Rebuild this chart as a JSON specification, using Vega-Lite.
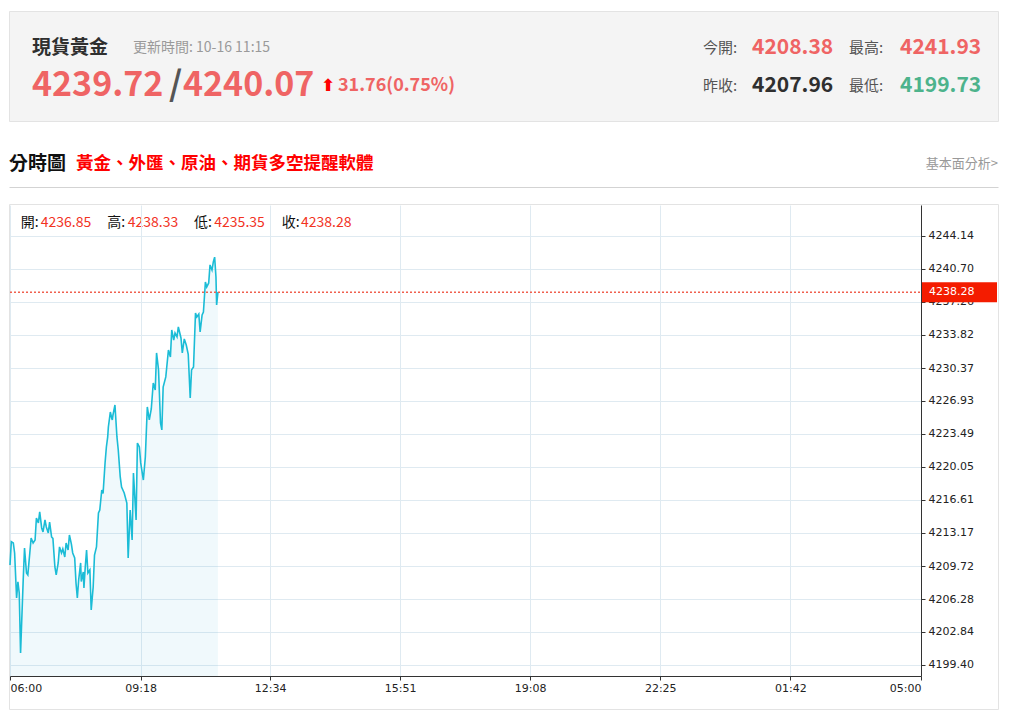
{
  "$schema": "https://vega.github.io/schema/vega-lite/v6.json",
  "background": "white",
  "padding": {"left": 6, "top": 10, "right": 0, "bottom": 0},
  "bounds": "flush",
  "spacing": 17,
  "resolve": {"scale": {"color": "independent", "x": "independent", "y": "independent"}},
  "datasets": {
    "header": [
      {"col": 1, "line": 1, "kind": "name", "text": "現貨黃金", "tone": "ink"},
      {"col": 2, "line": 1, "kind": "meta", "text": "更新時間: 10-16 11:15", "tone": "muted"},
      {"col": 1, "line": 2, "kind": "big", "text": "4239.72", "tone": "up"},
      {"col": 3, "line": 2, "kind": "big", "text": "/", "tone": "slash"},
      {"col": 4, "line": 2, "kind": "big", "text": "4240.07", "tone": "up"},
      {"col": 5, "line": 2, "kind": "arrow", "text": "⬆", "tone": "arrow"},
      {"col": 6, "line": 2, "kind": "change", "text": "31.76(0.75%)", "tone": "up"},
      {"col": 7, "line": 1, "kind": "label", "text": "今開:", "tone": "label"},
      {"col": 8, "line": 1, "kind": "value", "text": "4208.38", "tone": "up"},
      {"col": 9, "line": 1, "kind": "label", "text": "最高:", "tone": "label"},
      {"col": 10, "line": 1, "kind": "value", "text": "4241.93", "tone": "up"},
      {"col": 7, "line": 2, "kind": "label", "text": "昨收:", "tone": "label"},
      {"col": 8, "line": 2, "kind": "value", "text": "4207.96", "tone": "ink"},
      {"col": 9, "line": 2, "kind": "label", "text": "最低:", "tone": "label"},
      {"col": 10, "line": 2, "kind": "value", "text": "4199.73", "tone": "down"}
    ],
    "bar": [
      {"col": 1, "line": 1, "kind": "head", "text": "分時圖", "tone": "ink"},
      {"col": 4, "line": 1, "kind": "promo", "text": "黃金、外匯、原油、期貨多空提醒軟體", "tone": "alert"},
      {"col": 11, "line": 1, "kind": "link", "text": "基本面分析>", "tone": "muted"},
      {"col": 2, "line": 2, "kind": "info", "text": "開:", "tone": "ink"},
      {"col": 3, "line": 2, "kind": "info", "text": "4236.85", "tone": "quote"},
      {"col": 5, "line": 2, "kind": "info", "text": "高:", "tone": "ink"},
      {"col": 6, "line": 2, "kind": "info", "text": "4238.33", "tone": "quote"},
      {"col": 7, "line": 2, "kind": "info", "text": "低:", "tone": "ink"},
      {"col": 8, "line": 2, "kind": "info", "text": "4235.35", "tone": "quote"},
      {"col": 9, "line": 2, "kind": "info", "text": "收:", "tone": "ink"},
      {"col": 10, "line": 2, "kind": "info", "text": "4238.28", "tone": "quote"}
    ],
    "quote": [{"t": "2025-10-16T11:15", "p": 4238.28}],
    "price": [
      {"t": "2025-10-16T06:00", "p": 4209.83}, {"t": "2025-10-16T06:02", "p": 4212.26}, {"t": "2025-10-16T06:05", "p": 4212.12},
      {"t": "2025-10-16T06:07", "p": 4211.08}, {"t": "2025-10-16T06:10", "p": 4206.39}, {"t": "2025-10-16T06:12", "p": 4208.06},
      {"t": "2025-10-16T06:14", "p": 4206.91}, {"t": "2025-10-16T06:16", "p": 4200.65}, {"t": "2025-10-16T06:20", "p": 4208.26},
      {"t": "2025-10-16T06:22", "p": 4211.60}, {"t": "2025-10-16T06:25", "p": 4208.99}, {"t": "2025-10-16T06:27", "p": 4208.79},
      {"t": "2025-10-16T06:30", "p": 4211.08}, {"t": "2025-10-16T06:32", "p": 4212.64}, {"t": "2025-10-16T06:35", "p": 4212.12},
      {"t": "2025-10-16T06:38", "p": 4212.44}, {"t": "2025-10-16T06:40", "p": 4214.73}, {"t": "2025-10-16T06:43", "p": 4214.21},
      {"t": "2025-10-16T06:45", "p": 4215.36}, {"t": "2025-10-16T06:48", "p": 4213.69}, {"t": "2025-10-16T06:50", "p": 4213.27},
      {"t": "2025-10-16T06:53", "p": 4214.52}, {"t": "2025-10-16T06:55", "p": 4213.79}, {"t": "2025-10-16T06:58", "p": 4213.17},
      {"t": "2025-10-16T07:00", "p": 4214.31}, {"t": "2025-10-16T07:03", "p": 4212.75}, {"t": "2025-10-16T07:05", "p": 4212.60},
      {"t": "2025-10-16T07:08", "p": 4209.62}, {"t": "2025-10-16T07:10", "p": 4208.79}, {"t": "2025-10-16T07:13", "p": 4210.04},
      {"t": "2025-10-16T07:15", "p": 4211.71}, {"t": "2025-10-16T07:18", "p": 4211.08}, {"t": "2025-10-16T07:20", "p": 4211.50},
      {"t": "2025-10-16T07:23", "p": 4210.66}, {"t": "2025-10-16T07:25", "p": 4212.12}, {"t": "2025-10-16T07:28", "p": 4211.39},
      {"t": "2025-10-16T07:30", "p": 4212.96}, {"t": "2025-10-16T07:33", "p": 4212.00}, {"t": "2025-10-16T07:35", "p": 4211.08},
      {"t": "2025-10-16T07:38", "p": 4210.56}, {"t": "2025-10-16T07:40", "p": 4207.95}, {"t": "2025-10-16T07:42", "p": 4206.39},
      {"t": "2025-10-16T07:44", "p": 4208.26}, {"t": "2025-10-16T07:47", "p": 4210.04}, {"t": "2025-10-16T07:48", "p": 4208.10},
      {"t": "2025-10-16T07:51", "p": 4209.10}, {"t": "2025-10-16T07:52", "p": 4207.43}, {"t": "2025-10-16T07:54", "p": 4209.62},
      {"t": "2025-10-16T07:56", "p": 4211.39}, {"t": "2025-10-16T07:58", "p": 4208.99}, {"t": "2025-10-16T08:01", "p": 4209.31},
      {"t": "2025-10-16T08:03", "p": 4205.14}, {"t": "2025-10-16T08:06", "p": 4207.53}, {"t": "2025-10-16T08:08", "p": 4210.87},
      {"t": "2025-10-16T08:11", "p": 4211.71}, {"t": "2025-10-16T08:14", "p": 4215.25}, {"t": "2025-10-16T08:16", "p": 4215.56},
      {"t": "2025-10-16T08:19", "p": 4217.65}, {"t": "2025-10-16T08:21", "p": 4217.30}, {"t": "2025-10-16T08:24", "p": 4220.47},
      {"t": "2025-10-16T08:26", "p": 4222.13}, {"t": "2025-10-16T08:28", "p": 4223.18}, {"t": "2025-10-16T08:29", "p": 4224.22},
      {"t": "2025-10-16T08:32", "p": 4225.78}, {"t": "2025-10-16T08:34", "p": 4225.16}, {"t": "2025-10-16T08:35", "p": 4224.95},
      {"t": "2025-10-16T08:36", "p": 4225.47}, {"t": "2025-10-16T08:39", "p": 4226.51}, {"t": "2025-10-16T08:42", "p": 4223.18},
      {"t": "2025-10-16T08:44", "p": 4221.82}, {"t": "2025-10-16T08:47", "p": 4219.01}, {"t": "2025-10-16T08:49", "p": 4217.96},
      {"t": "2025-10-16T08:53", "p": 4217.34}, {"t": "2025-10-16T08:57", "p": 4216.29}, {"t": "2025-10-16T08:59", "p": 4210.56},
      {"t": "2025-10-16T09:02", "p": 4215.56}, {"t": "2025-10-16T09:05", "p": 4212.44}, {"t": "2025-10-16T09:07", "p": 4219.42},
      {"t": "2025-10-16T09:11", "p": 4214.52}, {"t": "2025-10-16T09:13", "p": 4222.55}, {"t": "2025-10-16T09:16", "p": 4222.13},
      {"t": "2025-10-16T09:18", "p": 4220.47}, {"t": "2025-10-16T09:22", "p": 4218.69}, {"t": "2025-10-16T09:25", "p": 4221.09},
      {"t": "2025-10-16T09:28", "p": 4226.31}, {"t": "2025-10-16T09:31", "p": 4224.95}, {"t": "2025-10-16T09:34", "p": 4226.10},
      {"t": "2025-10-16T09:37", "p": 4228.81}, {"t": "2025-10-16T09:40", "p": 4228.08}, {"t": "2025-10-16T09:42", "p": 4231.94},
      {"t": "2025-10-16T09:45", "p": 4230.17}, {"t": "2025-10-16T09:48", "p": 4224.64}, {"t": "2025-10-16T09:50", "p": 4223.91},
      {"t": "2025-10-16T09:52", "p": 4228.39}, {"t": "2025-10-16T09:56", "p": 4229.44}, {"t": "2025-10-16T10:00", "p": 4232.25},
      {"t": "2025-10-16T10:03", "p": 4231.52}, {"t": "2025-10-16T10:05", "p": 4234.34}, {"t": "2025-10-16T10:08", "p": 4233.29},
      {"t": "2025-10-16T10:10", "p": 4234.02}, {"t": "2025-10-16T10:13", "p": 4233.61}, {"t": "2025-10-16T10:15", "p": 4234.65},
      {"t": "2025-10-16T10:19", "p": 4233.50}, {"t": "2025-10-16T10:21", "p": 4231.94}, {"t": "2025-10-16T10:24", "p": 4233.40},
      {"t": "2025-10-16T10:27", "p": 4232.77}, {"t": "2025-10-16T10:30", "p": 4231.80}, {"t": "2025-10-16T10:33", "p": 4227.25},
      {"t": "2025-10-16T10:35", "p": 4230.17}, {"t": "2025-10-16T10:38", "p": 4230.48}, {"t": "2025-10-16T10:41", "p": 4236.11},
      {"t": "2025-10-16T10:43", "p": 4235.69}, {"t": "2025-10-16T10:46", "p": 4236.00}, {"t": "2025-10-16T10:48", "p": 4234.13},
      {"t": "2025-10-16T10:51", "p": 4235.90}, {"t": "2025-10-16T10:53", "p": 4236.21}, {"t": "2025-10-16T10:56", "p": 4239.34},
      {"t": "2025-10-16T10:58", "p": 4238.82}, {"t": "2025-10-16T11:01", "p": 4239.24}, {"t": "2025-10-16T11:03", "p": 4241.12},
      {"t": "2025-10-16T11:06", "p": 4240.59}, {"t": "2025-10-16T11:08", "p": 4241.43}, {"t": "2025-10-16T11:10", "p": 4241.93},
      {"t": "2025-10-16T11:12", "p": 4239.86}, {"t": "2025-10-16T11:13", "p": 4236.94}, {"t": "2025-10-16T11:15", "p": 4238.28}
    ]
  },
  "vconcat": [
    {
      "width": 989,
      "height": 110,
      "view": {"fill": "#f4f4f4", "stroke": "#e3e3e3"},
      "data": {"name": "header"},
      "encoding": {
        "x": {"field": "col", "type": "quantitative", "scale": {"domain": [1, 2, 3, 4, 5, 6, 7, 8, 9, 10], "range": [23, 124, 160, 174, 312, 329, 694, 743, 840, 891], "nice": false, "zero": false}, "axis": null},
        "y": {"field": "line", "type": "quantitative", "scale": {"domain": [1, 2], "range": [36.5, 75], "nice": false, "zero": false}, "axis": null},
        "text": {"field": "text"},
        "color": {"field": "tone", "type": "nominal", "scale": {"domain": ["ink", "muted", "up", "slash", "arrow", "label", "down"], "range": ["#2f2f2f", "#9a9a9a", "#ef6464", "#555555", "#ff0000", "#555555", "#4db38c"]}, "legend": null}
      },
      "layer": [
        {"transform": [{"filter": "datum.kind == 'name'"}], "mark": {"type": "text", "font": "Noto Sans CJK TC", "fontSize": 19, "fontWeight": "bold", "align": "left", "baseline": "middle"}},
        {"transform": [{"filter": "datum.kind == 'meta'"}], "mark": {"type": "text", "font": "Noto Sans CJK TC", "fontSize": 14, "align": "left", "baseline": "middle"}},
        {"transform": [{"filter": "datum.kind == 'big'"}], "mark": {"type": "text", "font": "Noto Sans CJK TC", "fontSize": 34, "fontWeight": "bold", "align": "left", "baseline": "middle"}},
        {"transform": [{"filter": "datum.kind == 'arrow'"}], "mark": {"type": "text", "font": "DejaVu Sans", "fontSize": 17, "fontWeight": "bold", "align": "left", "baseline": "middle"}},
        {"transform": [{"filter": "datum.kind == 'change'"}], "mark": {"type": "text", "font": "Noto Sans CJK TC", "fontSize": 18, "fontWeight": "bold", "align": "left", "baseline": "middle"}},
        {"transform": [{"filter": "datum.kind == 'label'"}], "mark": {"type": "text", "font": "Noto Sans CJK TC", "fontSize": 15, "align": "left", "baseline": "middle"}},
        {"transform": [{"filter": "datum.kind == 'value'"}], "mark": {"type": "text", "font": "Noto Sans CJK TC", "fontSize": 21, "fontWeight": "bold", "align": "left", "baseline": "middle"}}
      ]
    },
    {
      "width": 989,
      "height": 49,
      "view": {"stroke": null},
      "data": {"name": "bar"},
      "encoding": {
        "x": {"field": "col", "type": "quantitative", "scale": {"domain": [1, 2, 3, 4, 5, 6, 7, 8, 9, 10, 11], "range": [0, 11.7, 31.7, 67, 98.3, 118.7, 185, 205.3, 272.7, 292, 989], "nice": false, "zero": false}, "axis": {"orient": "bottom", "title": null, "labels": false, "ticks": false, "grid": false, "domainColor": "#d3d3d3", "domainWidth": 1}},
        "y": {"field": "line", "type": "quantitative", "scale": {"domain": [1, 2], "range": [25.5, 84.5], "nice": false, "zero": false}, "axis": null},
        "text": {"field": "text"},
        "color": {"field": "tone", "type": "nominal", "scale": {"domain": ["ink", "alert", "muted", "quote"], "range": ["#111111", "#ff0000", "#999999", "#f2331f"]}, "legend": null}
      },
      "layer": [
        {"transform": [{"filter": "datum.kind == 'head'"}], "mark": {"type": "text", "font": "Noto Sans CJK TC", "fontSize": 19, "fontWeight": "bold", "align": "left", "baseline": "middle"}},
        {"transform": [{"filter": "datum.kind == 'promo'"}], "mark": {"type": "text", "font": "Noto Sans CJK TC", "fontSize": 17.5, "fontWeight": "bold", "align": "left", "baseline": "middle"}},
        {"transform": [{"filter": "datum.kind == 'link'"}], "mark": {"type": "text", "font": "Noto Sans CJK TC", "fontSize": 13, "align": "right", "baseline": "middle"}},
        {"transform": [{"filter": "datum.kind == 'info'"}], "mark": {"type": "text", "font": "Noto Sans CJK TC", "fontSize": 14, "align": "left", "baseline": "middle"}}
      ]
    },
    {
      "width": 989,
      "height": 505,
      "view": {"stroke": "#e3e3e3"},
      "resolve": {"axis": {"x": "independent", "y": "independent"}},
      "layer": [
        {
          "data": {"name": "quote"},
          "mark": {"type": "point", "opacity": 0},
          "encoding": {
            "x": {
              "field": "t", "type": "temporal",
              "scale": {"domain": [{"year": 2025, "month": 10, "date": 16, "hours": 6}, {"year": 2025, "month": 10, "date": 17, "hours": 5}], "range": [1, 912], "nice": false},
              "axis": {
                "orient": "top", "title": null, "labels": false, "ticks": false, "domain": false, "grid": true, "gridColor": "#dfeaf1",
                "values": [
                  {"year": 2025, "month": 10, "date": 16, "hours": 6},
                  {"year": 2025, "month": 10, "date": 16, "hours": 9, "minutes": 18},
                  {"year": 2025, "month": 10, "date": 16, "hours": 12, "minutes": 34},
                  {"year": 2025, "month": 10, "date": 16, "hours": 15, "minutes": 51},
                  {"year": 2025, "month": 10, "date": 16, "hours": 19, "minutes": 8},
                  {"year": 2025, "month": 10, "date": 16, "hours": 22, "minutes": 25},
                  {"year": 2025, "month": 10, "date": 17, "hours": 1, "minutes": 42},
                  {"year": 2025, "month": 10, "date": 17, "hours": 5}
                ]
              }
            },
            "y": {
              "field": "p", "type": "quantitative",
              "scale": {"domain": [4198.25, 4247.37], "range": [472, 1], "nice": false, "zero": false},
              "axis": {
                "orient": "left", "title": null, "labels": false, "ticks": false, "domain": false, "grid": true, "gridColor": "#dfeaf1",
                "values": [4199.40, 4202.84, 4206.28, 4209.72, 4213.17, 4216.61, 4220.05, 4223.49, 4226.93, 4230.37, 4233.82, 4237.26, 4240.70, 4244.14]
              }
            }
          }
        },
        {
          "encoding": {
            "x": {
              "field": "t", "type": "temporal",
              "scale": {"domain": [{"year": 2025, "month": 10, "date": 16, "hours": 6}, {"year": 2025, "month": 10, "date": 17, "hours": 5}], "range": [1, 912], "nice": false},
              "axis": {
                "orient": "bottom", "offset": -33, "title": null, "format": "%H:%M",
                "values": [
                  {"year": 2025, "month": 10, "date": 16, "hours": 6},
                  {"year": 2025, "month": 10, "date": 16, "hours": 9, "minutes": 18},
                  {"year": 2025, "month": 10, "date": 16, "hours": 12, "minutes": 34},
                  {"year": 2025, "month": 10, "date": 16, "hours": 15, "minutes": 51},
                  {"year": 2025, "month": 10, "date": 16, "hours": 19, "minutes": 8},
                  {"year": 2025, "month": 10, "date": 16, "hours": 22, "minutes": 25},
                  {"year": 2025, "month": 10, "date": 17, "hours": 1, "minutes": 42},
                  {"year": 2025, "month": 10, "date": 17, "hours": 5}
                ],
                "grid": false, "domainColor": "#333333", "tickColor": "#333333", "tickSize": 4,
                "labelFont": "DejaVu Sans", "labelFontSize": 11, "labelColor": "#222222", "labelPadding": 2, "labelFlush": true, "labelOverlap": false
              }
            },
            "y": {
              "field": "p", "type": "quantitative",
              "scale": {"domain": [4198.25, 4247.37], "range": [472, 1], "nice": false, "zero": false},
              "axis": {
                "orient": "right", "offset": -77, "title": null, "format": ".2f",
                "values": [4199.40, 4202.84, 4206.28, 4209.72, 4213.17, 4216.61, 4220.05, 4223.49, 4226.93, 4230.37, 4233.82, 4237.26, 4240.70, 4244.14],
                "grid": false, "domainColor": "#333333", "tickColor": "#333333", "tickSize": 4,
                "labelFont": "DejaVu Sans", "labelFontSize": 11, "labelColor": "#222222", "labelPadding": 3, "labelOverlap": false
              }
            }
          },
          "layer": [
            {"data": {"name": "price"}, "mark": {"type": "area", "orient": "vertical", "interpolate": "linear", "fill": "#5bc0de", "fillOpacity": 0.09}, "encoding": {"y2": {"datum": 4198.25}}},
            {"data": {"name": "price"}, "mark": {"type": "line", "color": "#1bbcd6", "strokeWidth": 1.6}},
            {"data": {"name": "quote"}, "mark": {"type": "rule", "color": "#f0604f", "strokeDash": [2, 2], "strokeWidth": 1.5},
              "encoding": {"x": {"datum": {"year": 2025, "month": 10, "date": 16, "hours": 6}}, "x2": {"datum": {"year": 2025, "month": 10, "date": 17, "hours": 5}}}},
            {"data": {"values": [{}]}, "mark": {"type": "rule", "color": "#333333", "strokeWidth": 1},
              "encoding": {"x": {"datum": {"year": 2025, "month": 10, "date": 17, "hours": 5}}, "y": {"datum": 4198.25}, "y2": {"datum": 4194.81}}},
            {"data": {"values": [{}]}, "mark": {"type": "rule", "color": "#333333", "strokeWidth": 1},
              "encoding": {"x": {"datum": {"year": 2025, "month": 10, "date": 17, "hours": 5}}, "x2": {"datum": {"year": 2025, "month": 10, "date": 17, "hours": 6, "minutes": 57}}, "y": {"datum": 4198.25}}},
            {"data": {"name": "quote"}, "mark": {"type": "tick", "orient": "horizontal", "color": "#f41c00", "size": 75, "thickness": 20, "xOffset": 38.5, "opacity": 1},
              "encoding": {"x": {"datum": {"year": 2025, "month": 10, "date": 17, "hours": 5}}}},
            {"data": {"name": "quote"}, "mark": {"type": "text", "color": "white", "font": "DejaVu Sans", "fontSize": 11, "align": "left", "baseline": "middle", "dx": 8},
              "encoding": {"x": {"datum": {"year": 2025, "month": 10, "date": 17, "hours": 5}}, "text": {"field": "p", "type": "quantitative", "format": ".2f"}}}
          ]
        }
      ]
    }
  ]
}
